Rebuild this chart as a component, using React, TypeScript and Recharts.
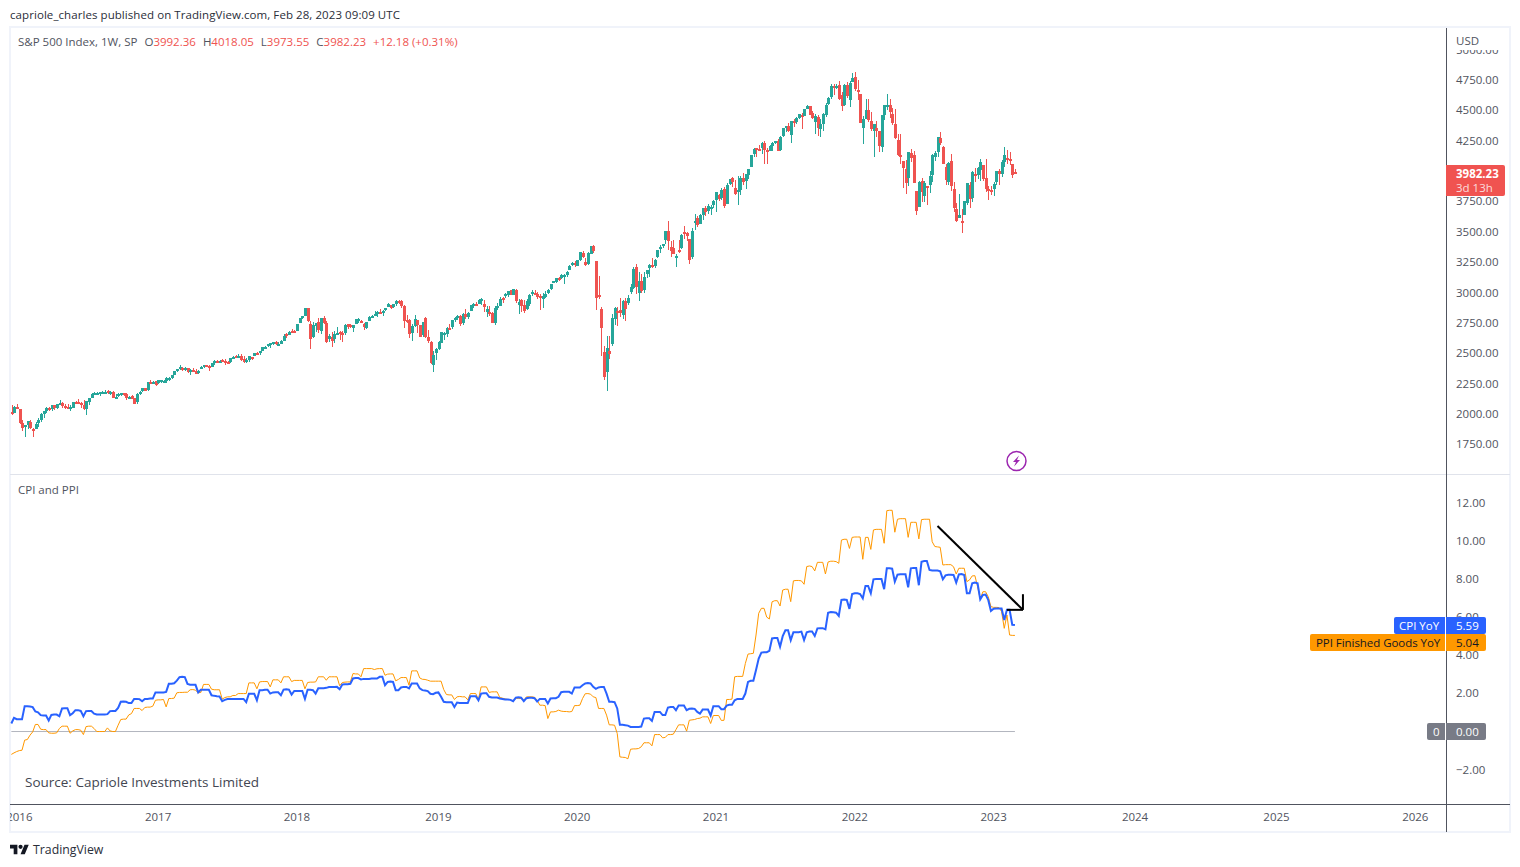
import React from "react";
import { ComposedChart, Bar, Line, XAxis, YAxis, ReferenceLine } from "recharts";

const FONT = "'Open Sans', Roboto, Arial, sans-serif";
const UP = "#26a69a";
const DOWN = "#ef5350";
const TEXT = "#50535e";
const SIZE = 11.5;

// weekly candles: open, high, low, close
const candles2015 = [[2013,2073,1993,2005],[2010,2064,2005,2060],[2058,2081,2038,2044]];
const candles2016 = [[2038,2038,1918,1922],[1926,1950,1858,1880],[1889,1909,1812,1907],[1906,1940,1872,1940],[1936,1947,1872,1880],[1873,1881,1810,1865],[1872,1930,1872,1918],[1924,1963,1892,1948],[1946,2009,1932,2000],[1996,2022,1969,2022],[2020,2060,2007,2050],[2049,2056,2022,2036],[2038,2075,2023,2073],[2073,2075,2033,2048],[2050,2083,2039,2083],[2078,2112,2078,2092],[2088,2099,2050,2065],[2067,2084,2039,2057],[2057,2084,2043,2047],[2046,2072,2025,2053],[2052,2100,2048,2099],[2101,2105,2085,2099],[2100,2120,2090,2096],[2092,2096,2050,2071],[2075,2113,2032,2037],[2040,2103,1991,2103],[2096,2132,2074,2130],[2133,2169,2133,2162],[2162,2178,2159,2175],[2173,2178,2157,2174],[2169,2183,2147,2183],[2183,2188,2178,2184],[2183,2194,2172,2184],[2187,2193,2160,2169],[2171,2188,2157,2180],[2181,2187,2127,2128],[2120,2163,2120,2139],[2143,2175,2139,2165],[2160,2175,2145,2168],[2168,2169,2145,2154],[2160,2170,2115,2133],[2135,2148,2124,2141],[2148,2152,2120,2126],[2128,2133,2083,2085],[2100,2170,2084,2164],[2168,2188,2156,2182],[2186,2213,2183,2213],[2210,2214,2187,2192],[2200,2260,2190,2259],[2259,2278,2248,2258],[2260,2273,2254,2263],[2270,2273,2233,2239]];
const candles2017 = [[2251,2277,2245,2277],[2273,2279,2255,2275],[2270,2277,2254,2271],[2267,2301,2257,2295],[2294,2301,2268,2297],[2295,2319,2288,2316],[2322,2351,2319,2351],[2355,2367,2345,2367],[2375,2401,2363,2383],[2381,2386,2354,2373],[2374,2390,2354,2378],[2379,2381,2335,2344],[2341,2370,2322,2363],[2363,2378,2344,2355],[2357,2367,2329,2329],[2342,2362,2328,2349],[2370,2392,2370,2384],[2389,2399,2379,2399],[2399,2404,2388,2391],[2393,2406,2353,2382],[2387,2416,2382,2416],[2415,2440,2402,2439],[2437,2446,2415,2432],[2432,2446,2415,2433],[2442,2454,2426,2438],[2437,2453,2406,2423],[2431,2433,2408,2425],[2425,2463,2415,2459],[2459,2476,2458,2472],[2473,2484,2459,2472],[2475,2490,2468,2476],[2478,2490,2437,2441],[2454,2474,2417,2425],[2425,2456,2417,2444],[2442,2480,2428,2477],[2470,2472,2446,2461],[2474,2500,2474,2500],[2503,2509,2493,2502],[2504,2520,2488,2519],[2521,2552,2521,2549],[2551,2556,2541,2553],[2555,2576,2548,2575],[2578,2582,2544,2581],[2582,2596,2567,2588],[2588,2598,2566,2582],[2577,2590,2557,2579],[2579,2605,2577,2602],[2603,2658,2598,2642],[2657,2665,2624,2652],[2652,2680,2652,2675],[2685,2695,2673,2683],[2683,2694,2673,2674]];
const candles2018 = [[2683,2743,2683,2743],[2745,2787,2745,2786],[2798,2810,2780,2810],[2810,2873,2808,2873],[2868,2870,2759,2762],[2741,2763,2533,2620],[2637,2754,2622,2732],[2725,2748,2675,2747],[2754,2790,2667,2691],[2681,2787,2659,2786],[2790,2802,2741,2752],[2750,2761,2585,2588],[2619,2660,2594,2641],[2633,2673,2553,2604],[2613,2680,2586,2656],[2670,2718,2660,2670],[2675,2683,2612,2670],[2670,2683,2594,2663],[2663,2742,2653,2728],[2738,2743,2702,2713],[2735,2742,2704,2721],[2705,2736,2676,2735],[2742,2779,2737,2779],[2779,2791,2751,2780],[2766,2774,2745,2755],[2742,2746,2691,2718],[2705,2760,2698,2759],[2768,2804,2768,2801],[2798,2816,2791,2802],[2810,2848,2808,2819],[2819,2848,2796,2840],[2840,2863,2830,2833],[2827,2855,2802,2850],[2853,2876,2850,2874],[2884,2916,2884,2902],[2897,2900,2864,2872],[2881,2906,2874,2905],[2903,2941,2887,2930],[2927,2940,2904,2914],[2927,2939,2874,2885],[2887,2895,2710,2767],[2777,2816,2749,2768],[2773,2779,2628,2658],[2670,2744,2603,2723],[2727,2815,2714,2781],[2773,2775,2670,2736],[2731,2732,2631,2633],[2650,2760,2635,2760],[2790,2800,2621,2633],[2631,2692,2583,2599],[2590,2602,2409,2417],[2400,2520,2347,2485],[2499,2539,2444,2532]];
const candles2019 = [[2535,2598,2524,2596],[2582,2675,2580,2671],[2659,2674,2612,2665],[2660,2718,2631,2707],[2711,2738,2687,2708],[2713,2776,2703,2776],[2776,2794,2758,2793],[2800,2814,2775,2804],[2810,2816,2723,2743],[2747,2830,2734,2822],[2822,2860,2785,2801],[2797,2836,2785,2834],[2848,2893,2848,2893],[2888,2911,2874,2907],[2908,2918,2891,2905],[2908,2950,2908,2940],[2941,2954,2900,2946],[2908,2934,2835,2881],[2841,2892,2801,2860],[2841,2892,2805,2826],[2831,2841,2750,2752],[2751,2885,2729,2873],[2886,2911,2859,2887],[2889,2964,2887,2950],[2951,2964,2914,2942],[2972,2996,2953,2990],[2980,3014,2964,3014],[3018,3018,2976,2977],[2982,3028,2977,3026],[3024,3029,2914,2932],[2898,2945,2822,2919],[2934,2943,2840,2889],[2900,2939,2834,2847],[2867,2943,2856,2926],[2909,2985,2891,2979],[2988,3022,2969,3007],[2996,3022,2978,2992],[2984,3002,2945,2962],[2967,2984,2855,2952],[2944,2993,2874,2970],[2965,3008,2952,2986],[2996,3027,2991,3023],[3032,3067,3023,3067],[3078,3098,3074,3093],[3087,3121,3075,3120],[3118,3127,3091,3110],[3117,3154,3107,3141],[3144,3150,3070,3146],[3141,3176,3124,3169],[3183,3226,3183,3221],[3224,3247,3222,3240],[3240,3259,3212,3235]];
const candles2020 = [[3218,3267,3214,3265],[3271,3330,3263,3330],[3321,3338,3281,3295],[3247,3285,3214,3226],[3236,3337,3223,3328],[3318,3385,3315,3380],[3380,3393,3328,3338],[3257,3260,2855,2954],[2975,3137,2945,2972],[2864,2883,2478,2711],[2509,2563,2280,2305],[2344,2638,2192,2541],[2514,2641,2448,2489],[2578,2819,2558,2790],[2782,2879,2728,2875],[2846,2881,2727,2837],[2854,2954,2797,2831],[2816,2934,2779,2930],[2931,2955,2767,2864],[2914,2980,2900,2955],[3005,3068,2990,3044],[3038,3211,3025,3194],[3213,3233,2984,3041],[2993,3165,2933,3098],[3094,3155,2999,3009],[3018,3166,2999,3130],[3155,3186,3115,3185],[3205,3238,3127,3225],[3224,3287,3201,3215],[3219,3278,3200,3271],[3288,3352,3280,3351],[3356,3387,3328,3373],[3380,3399,3370,3397],[3431,3509,3403,3508],[3509,3588,3349,3427],[3371,3425,3293,3341],[3364,3429,3313,3319],[3285,3320,3209,3298],[3350,3428,3323,3348],[3367,3485,3361,3477],[3500,3550,3441,3484],[3493,3502,3424,3465],[3441,3441,3233,3270],[3296,3529,3279,3510],[3583,3646,3512,3585],[3611,3628,3542,3558],[3567,3646,3566,3638],[3634,3699,3594,3699],[3694,3712,3633,3663],[3675,3726,3648,3709],[3694,3723,3636,3703],[3723,3760,3693,3756]];
const candles2021 = [[3764,3826,3663,3825],[3803,3810,3750,3768],[3781,3862,3760,3841],[3855,3870,3694,3714],[3731,3900,3725,3887],[3892,3937,3884,3934],[3939,3951,3865,3907],[3857,3929,3805,3811],[3842,3961,3723,3842],[3844,3960,3805,3943],[3943,3982,3883,3913],[3917,3978,3853,3975],[3969,4020,3937,4020],[4034,4129,4034,4129],[4142,4191,4119,4185],[4186,4194,4118,4180],[4185,4218,4174,4181],[4192,4238,4142,4233],[4228,4245,4057,4174],[4170,4188,4056,4156],[4168,4214,4168,4204],[4207,4238,4167,4229],[4229,4250,4219,4247],[4249,4262,4165,4167],[4174,4287,4165,4281],[4285,4356,4278,4352],[4356,4372,4321,4370],[4372,4393,4321,4327],[4296,4415,4234,4412],[4409,4430,4363,4395],[4407,4442,4385,4437],[4437,4469,4426,4468],[4461,4480,4347,4442],[4450,4511,4450,4509],[4514,4545,4514,4535],[4535,4536,4459,4459],[4475,4493,4429,4433],[4403,4466,4305,4455],[4442,4465,4289,4357],[4348,4429,4279,4391],[4385,4476,4329,4471],[4463,4560,4447,4545],[4553,4608,4548,4605],[4610,4719,4596,4697],[4701,4718,4630,4682],[4689,4718,4672,4698],[4712,4744,4585,4595],[4628,4652,4495,4538],[4548,4713,4532,4712],[4710,4731,4600,4620],[4588,4740,4531,4726],[4733,4808,4733,4766]];
const candles2022 = [[4778,4818,4662,4677],[4670,4749,4582,4662],[4632,4632,4395,4398],[4356,4453,4222,4431],[4432,4595,4431,4500],[4505,4590,4401,4419],[4412,4490,4327,4349],[4332,4385,4115,4385],[4354,4416,4279,4329],[4328,4328,4158,4204],[4202,4465,4161,4463],[4462,4546,4424,4543],[4541,4638,4506,4546],[4547,4594,4435,4488],[4474,4521,4381,4392],[4385,4513,4267,4272],[4256,4309,4124,4132],[4130,4308,4062,4123],[4082,4082,3859,4024],[4014,4090,3811,3901],[3943,4158,3876,4158],[4151,4178,4074,4109],[4134,4169,3900,3901],[3838,3838,3637,3675],[3700,3914,3700,3912],[3920,3946,3742,3825],[3792,3919,3742,3899],[3880,3880,3721,3863],[3883,3999,3818,3961],[3966,4140,3911,4130],[4112,4167,4080,4145],[4155,4280,4112,4280],[4269,4325,4218,4228],[4195,4203,4057,4058],[4035,4062,3886,3924],[3910,4076,3887,4067],[4084,4140,3838,3873],[3849,3907,3666,3693],[3686,3736,3584,3586],[3610,3807,3610,3640],[3590,3685,3491,3583],[3638,3753,3638,3752],[3740,3905,3721,3901],[3882,3912,3698,3771],[3780,3999,3743,3993],[3977,4029,3906,3965],[3966,4034,3936,4026],[4005,4101,3918,4072],[4052,4053,3919,3934],[3939,4100,3828,3852],[3853,3876,3764,3845],[3843,3878,3802,3840]];
const candles2023 = [[3853,3906,3795,3895],[3911,4003,3888,3999],[3999,4015,3885,3973],[3978,4095,3949,4071],[4071,4195,4037,4136],[4111,4176,4062,4090],[4096,4156,4048,4079],[4054,4055,3943,3970],[3992.36,4018.05,3973.55,3982.23]];

const cpiEarly = [0.42,0.72,0.65,0.65,0.65,1.33,1.33,1.31,1.28,1.05,1.01,0.86,0.84,0.84,0.58,0.87,0.89,0.89,0.8,1.21,1.22,1.22,0.86,0.96,1.12,1.12,1.08,0.8,1.07,1.08,1.08,0.94,0.89,0.89,0.89,0.89,0.91,1.07,1.08,1.08,1.24,1.56,1.57,1.56,1.49,1.49,1.71,1.71,1.7,1.59,1.71,1.71,1.73,1.73,2.05,2.05,2.05,2.05,2.08,2.5,2.5,2.53,2.67,2.85,2.87,2.85,2.5,2.45,2.45,2.45,2.05,2.19,2.19,2.19,2.19,1.9,1.87,1.85,1.84,1.59,1.66,1.7,1.71,1.71,1.71,1.71,1.71,1.71,1.54,1.98,1.98,1.98,1.64,2.17,2.17,2.19,2.19,1.99,2.05,2.06,2.06,1.9,2.2,2.22,2.2,1.94,2.13,2.13,2.13,2.13,1.71,2.19,2.19,2.17,1.99,2.27,2.27,2.27,2.29,2.33,2.33,2.33,2.34,2.22,2.47,2.48,2.48,2.5,2.78,2.8,2.8,2.73,2.76,2.76,2.76,2.78,2.78,2.78,2.87,2.87,2.43,2.6,2.62,2.6,2.17,2.17,2.31,2.34,2.34,2.26,2.52,2.52,2.52,2.26,2.17,2.15,2.12,1.98,1.96,2.03,2.05,1.82,1.56,1.54,1.54,1.54,1.29,1.52,1.5,1.5,1.49,1.49,1.85,1.85,1.85,1.64,1.99,2.01,2.01,1.82,1.78,1.78,1.78,1.73];
const cpiMiddle = [1.71,1.68,1.68,1.66,1.59,1.78,1.8,1.78,1.59,1.75,1.77,1.77,1.75,1.57,1.71,1.71,1.71,1.47,1.73,1.75,1.75,1.82,2.06,2.08,2.08,2.08,1.99,2.31,2.31,2.31,2.43,2.52,2.54,2.52,2.34,2.24,2.31,2.34,2.34,1.99,1.56,1.56,1.54,1.21,0.35,0.35,0.33,0.31,0.24,0.24,0.24,0.24,0.26,0.68,0.7,0.7,0.56,1.03,1.03,1.03,0.86,0.86,1.26,1.29,1.29,1.12,1.36,1.36,1.36,1.12,1.19,1.21,1.19,1.03,0.94,1.15,1.15,1.15,0.84,1.33,1.33,1.33,1.17,1.17,1.36,1.4,1.4,1.64,1.71,1.71,1.71,1.99,2.6,2.66,2.66,3.22,3.83,4.14,4.16,4.16,4.23,4.88,4.9,4.9,4.44,5.0,5.31,5.31,4.79,5.21,5.21,5.21];
const cpiLate = [5.24,4.8,5.2,5.24,5.24,5.01,5.41,5.42,5.42,5.36,6.23,6.27,6.25,6.23,6.06,6.9,6.92,6.9,6.43,7.21,7.25,7.25,7.21,6.98,7.63,7.63,7.25,7.98,8.0,8.0,8.0,7.46,8.56,8.56,8.54,7.86,8.22,8.24,8.24,8.24,7.56,8.56,8.58,8.58,7.67,8.9,8.94,8.94,8.47,8.44,8.44,8.44,8.4,7.98,8.19,8.22,8.22,8.21,7.81,8.24,8.26,8.21,7.25,7.25,7.77,7.81,7.77,6.93,7.16,7.18,6.9,6.32,6.44,6.45,6.45,6.45,5.85,6.38,6.38,5.6,5.59];
const ppiEarly = [-1.2,-1.12,-1.05,-1.0,-0.98,-0.45,-0.42,-0.19,-0.02,0.37,0.37,0.12,0.1,0.1,-0.07,-0.09,-0.09,-0.07,0.16,0.28,0.28,0.28,-0.09,0.03,0.1,0.1,0.07,-0.16,0.26,0.28,0.28,0.16,0,0,0,0,0.19,0.03,0,0,0.33,0.63,0.65,0.65,0.87,0.94,1.21,1.21,1.21,1.1,1.26,1.28,1.28,1.33,1.64,1.66,1.66,1.68,1.29,1.73,1.73,1.75,2.03,2.05,2.05,2.06,2.06,2.19,2.2,2.17,2.03,2.05,2.47,2.47,2.47,2.22,2.19,2.19,2.19,1.7,1.78,1.82,1.82,1.89,1.89,1.99,1.99,1.99,1.99,2.55,2.55,2.55,2.24,2.6,2.62,2.62,2.62,2.34,2.71,2.71,2.71,2.55,2.87,2.87,2.87,2.62,2.68,2.68,2.68,2.68,2.24,2.57,2.59,2.59,2.6,2.87,2.87,2.87,2.69,2.87,2.87,2.87,2.87,2.4,2.57,2.59,2.6,2.6,3.04,3.02,3.02,2.87,3.3,3.3,3.3,3.3,3.25,3.29,3.3,3.3,2.95,3.01,3.02,3.02,2.66,2.73,2.83,2.83,2.83,2.43,3.18,3.18,3.18,2.81,2.74,2.73,2.69,2.64,2.64,2.64,2.64,2.64,2.2,1.94,1.92,1.92,1.68,1.82,1.84,1.82,1.82,1.66,1.99,1.99,1.99,1.68,2.34,2.34,2.34,2.05,2.08,2.08,2.08,1.78];
const ppiMiddle = [1.75,1.71,1.68,1.68,1.57,1.75,1.73,1.73,1.64,1.82,1.82,1.82,1.8,1.64,1.38,1.38,1.36,0.68,1.03,1.03,1.05,1.12,1.07,1.05,1.05,1.03,1.05,1.36,1.36,1.38,1.73,1.98,1.99,1.96,1.82,1.78,1.21,1.21,1.21,0.86,0.35,0.35,0.33,-0.1,-1.33,-1.35,-1.36,-1.43,-0.93,-0.91,-0.91,-0.89,-0.8,-0.59,-0.59,-0.59,-0.75,-0.16,-0.16,-0.16,-0.33,-0.31,-0.16,-0.16,-0.14,0.1,0.35,0.35,0.35,0.02,0.59,0.61,0.63,0.68,0.7,0.77,0.77,0.77,0.42,0.84,0.84,0.84,0.58,0.59,1.68,1.68,1.7,2.87,2.89,2.89,2.89,3.57,4.06,4.08,4.1];
const ppiLate = [5.06,6.2,6.46,6.46,6.0,5.9,6.8,6.86,6.86,6.58,7.42,7.46,7.46,6.81,7.9,7.92,7.92,7.9,7.72,8.65,8.68,8.65,8.42,8.87,8.87,8.87,8.26,8.89,8.93,8.93,8.91,8.82,10.04,10.08,10.08,9.6,10.18,10.2,10.2,10.2,9.03,10.18,10.18,9.55,10.57,10.6,10.6,10.6,9.87,11.58,11.6,11.6,10.45,11.13,11.16,11.16,11.16,10.18,10.97,10.97,10.97,10.1,11.11,11.13,11.13,11.13,9.95,9.7,9.68,9.66,8.73,8.75,8.75,8.75,8.64,8.26,8.56,8.56,8.56,7.86,7.95,8.16,8.17,7.6,6.95,7.33,7.33,7.07,6.55,6.51,6.51,6.5,6.29,5.41,6.11,5.06,5.04,5.04];

const yearTicks = [3, 55, 107, 160, 212, 264, 316, 368, 421, 474, 526];
const yearLabels = ["2016", "2017", "2018", "2019", "2020", "2021", "2022", "2023", "2024", "2025", "2026"];
const priceTicks = [1750, 2000, 2250, 2500, 2750, 3000, 3250, 3500, 3750, 4000, 4250, 4500, 4750, 5000];
const indicatorTicks = [-2, 0, 2, 4, 6, 8, 10, 12];
const SLOT_COUNT = 538;

const candles = [...candles2015, ...candles2016, ...candles2017, ...candles2018, ...candles2019, ...candles2020, ...candles2021, ...candles2022, ...candles2023];
const cpi = [...cpiEarly, ...cpiMiddle, ...cpiLate];
const ppi = [...ppiEarly, ...ppiMiddle, ...ppiLate];

const priceRows = Array.from({ length: SLOT_COUNT }, (_, i) => {
  const c = candles[i];
  return c ? { i, o: c[0], h: c[1], l: c[2], c: c[3], range: [c[2], c[1]] } : { i };
});
const indicatorRows = Array.from({ length: SLOT_COUNT }, (_, i) => ({ i, cpi: cpi[i], ppi: ppi[i] }));

function Candle(props: any) {
  const { x, y, width, height, payload } = props;
  if (!payload || payload.h == null || !isFinite(y)) return null;
  const perUnit = height / Math.max(payload.h - payload.l, 1e-6);
  const cx = Math.round(x + width / 2);
  const top = Math.round(y + (payload.h - Math.max(payload.o, payload.c)) * perUnit);
  const bottom = Math.round(y + (payload.h - Math.min(payload.o, payload.c)) * perUnit);
  const color = payload.c >= payload.o ? UP : DOWN;
  const wickTop = Math.round(y);
  const wickBottom = Math.round(y + height);
  return (
    <g shapeRendering="crispEdges">
      <rect x={cx} y={wickTop} width={1} height={Math.max(wickBottom - wickTop, 1)} fill={color} />
      <rect x={cx - 1} y={top} width={3} height={Math.max(bottom - top, 2)} fill={color} />
    </g>
  );
}

const axisTick = { fill: TEXT, fontSize: SIZE, fontFamily: FONT };
const box = (s: React.CSSProperties): React.CSSProperties => ({ position: "absolute", whiteSpace: "nowrap", fontFamily: FONT, fontSize: SIZE, lineHeight: "17px", ...s });

export default function App() {
  return (
    <div style={{ position: "absolute", left: 0, top: 0, width: 1520, height: 867, overflow: "hidden", background: "#fff", fontFamily: FONT }}>
      <div style={box({ left: 10, top: 6, color: "#2a2e39", letterSpacing: 0.07 })}>capriole_charles published on TradingView.com, Feb 28, 2023 09:09 UTC</div>

      <div style={{ position: "absolute", left: 9, top: 26, width: 1498, height: 803, border: "2px solid #f0f3fa" }} />

      <div style={{ position: "absolute", left: 10, top: 27 }}>
        <ComposedChart width={1500} height={447} data={priceRows} margin={{ top: 0, right: 0, bottom: 0, left: 0 }} barCategoryGap={0} barGap={0}>
          <XAxis dataKey="i" type="category" scale="band" hide />
          <YAxis orientation="right" width={64} type="number" domain={[1504.6, 5186.6]} allowDataOverflow ticks={priceTicks} interval={0} axisLine={false} tickLine={false} tickSize={0} tickMargin={10} tick={axisTick} tickFormatter={(v: number) => v.toFixed(2)} />
          <Bar dataKey="range" isAnimationActive={false} shape={<Candle />} />
        </ComposedChart>
      </div>

      <div style={{ position: "absolute", left: 10, top: 475 }}>
        <ComposedChart width={1500} height={357} data={indicatorRows} margin={{ top: 0, right: 0, bottom: 0, left: 0 }}>
          <XAxis dataKey="i" type="category" scale="band" height={28} ticks={yearTicks} interval={0} axisLine={false} tickLine={false} tickSize={0} tickMargin={9} tick={axisTick} tickFormatter={(v: number) => yearLabels[yearTicks.indexOf(v)]} />
          <YAxis orientation="right" width={64} type="number" domain={[-3.8, 13.45]} allowDataOverflow ticks={indicatorTicks} interval={0} axisLine={false} tickLine={false} tickSize={0} tickMargin={10} tick={axisTick} tickFormatter={(v: number) => v.toFixed(2).replace("-", "\u2212")} />
          <ReferenceLine segment={[{ x: 0, y: 0 }, { x: 376, y: 0 }]} stroke="#b2b5be" strokeWidth={1} />
          <Line dataKey="ppi" type="linear" stroke="#ff9800" strokeWidth={1} dot={false} isAnimationActive={false} />
          <Line dataKey="cpi" type="linear" stroke="#2962ff" strokeWidth={2} dot={false} isAnimationActive={false} />
          <ReferenceLine segment={[{ x: 347, y: 10.78 }, { x: 379, y: 6.38 }]} stroke="#000" strokeWidth={2} />
          <ReferenceLine segment={[{ x: 373, y: 6.38 }, { x: 379, y: 6.38 }]} stroke="#000" strokeWidth={2} />
          <ReferenceLine segment={[{ x: 379, y: 6.38 }, { x: 379, y: 7.2 }]} stroke="#000" strokeWidth={2} />
        </ComposedChart>
      </div>

      <div style={{ position: "absolute", left: 10, top: 474, width: 1500, height: 1, background: "#e0e3eb" }} />
      <div style={{ position: "absolute", left: 10, top: 804, width: 1500, height: 1, background: TEXT }} />
      <div style={{ position: "absolute", left: 1446, top: 28, width: 1, height: 804, background: TEXT }} />

      <div style={box({ left: 18, top: 33, color: TEXT })}>
        S&amp;P 500 Index, 1W, SP
        <span style={{ marginLeft: 7 }}>O</span><span style={{ color: DOWN }}>3992.36</span>
        <span style={{ marginLeft: 7 }}>H</span><span style={{ color: DOWN }}>4018.05</span>
        <span style={{ marginLeft: 7 }}>L</span><span style={{ color: DOWN }}>3973.55</span>
        <span style={{ marginLeft: 7 }}>C</span><span style={{ color: DOWN }}>3982.23</span>
        <span style={{ marginLeft: 7, color: DOWN }}>+12.18 (+0.31%)</span>
      </div>
      <div style={box({ left: 18, top: 481, color: TEXT })}>CPI and PPI</div>
      <div style={box({ left: 25, top: 773, color: "#434651", fontSize: 13.5, lineHeight: "18px" })}>Source: Capriole Investments Limited</div>

      <div style={{ position: "absolute", left: 1447, top: 28, width: 62, height: 22, background: "#fff" }} />
      <div style={box({ left: 1456, top: 32, color: TEXT })}>USD</div>

      <div style={{ position: "absolute", left: 1446, top: 165, width: 59, height: 31, background: "#f05350", borderRadius: "0 2px 2px 0" }} />
      <div style={box({ left: 1456, top: 165, color: "#fff", fontWeight: 700 })}>3982.23</div>
      <div style={box({ left: 1456, top: 179, color: "rgba(255,255,255,0.8)" })}>3d 13h</div>

      <div style={{ position: "absolute", left: 1394, top: 617, width: 92, height: 17, background: "#2962ff", borderRadius: 2 }} />
      <div style={box({ left: 1399, top: 617, color: "#fff" })}>CPI YoY</div>
      <div style={box({ left: 1456, top: 617, color: "#fff" })}>5.59</div>
      <div style={{ position: "absolute", left: 1310, top: 634, width: 176, height: 17, background: "#ff9800", borderRadius: 2 }} />
      <div style={box({ left: 1316, top: 634, color: "#131722", letterSpacing: -0.05 })}>PPI Finished Goods YoY</div>
      <div style={box({ left: 1456, top: 634, color: "#131722" })}>5.04</div>
      <div style={{ position: "absolute", left: 1427, top: 723, width: 59, height: 17, background: "#787b86", borderRadius: 2 }} />
      <div style={box({ left: 1433, top: 723, color: "#fff" })}>0</div>
      <div style={box({ left: 1456, top: 723, color: "#fff" })}>0.00</div>
      <div style={{ position: "absolute", left: 1445, top: 617, width: 1, height: 34, background: "#fff" }} />
      <div style={{ position: "absolute", left: 1445, top: 723, width: 1, height: 17, background: "#fff" }} />

      <svg style={{ position: "absolute", left: 1005, top: 450 }} width={23} height={23} viewBox="0 0 23 23">
        <circle cx={11.5} cy={11} r={9.5} fill="#fff" stroke="#9c27b0" strokeWidth={1.5} />
        <path d="M14 5.5 L8 12 L11 12 L9 16.5 L15 10 L12 10 Z" fill="#9c27b0" />
      </svg>

      <svg style={{ position: "absolute", left: 10, top: 844 }} width={19} height={11} viewBox="0 4 36 18">
        <path d="M14 22H7V11H0V4h14v18zM28 22h-8l7.5-18h8L28 22z" fill="#131722" />
        <circle cx={20} cy={8} r={4} fill="#131722" />
      </svg>
      <div style={box({ left: 33, top: 841, color: "#2a2e39", fontSize: 12.3, lineHeight: "18px" })}>TradingView</div>
    </div>
  );
}
